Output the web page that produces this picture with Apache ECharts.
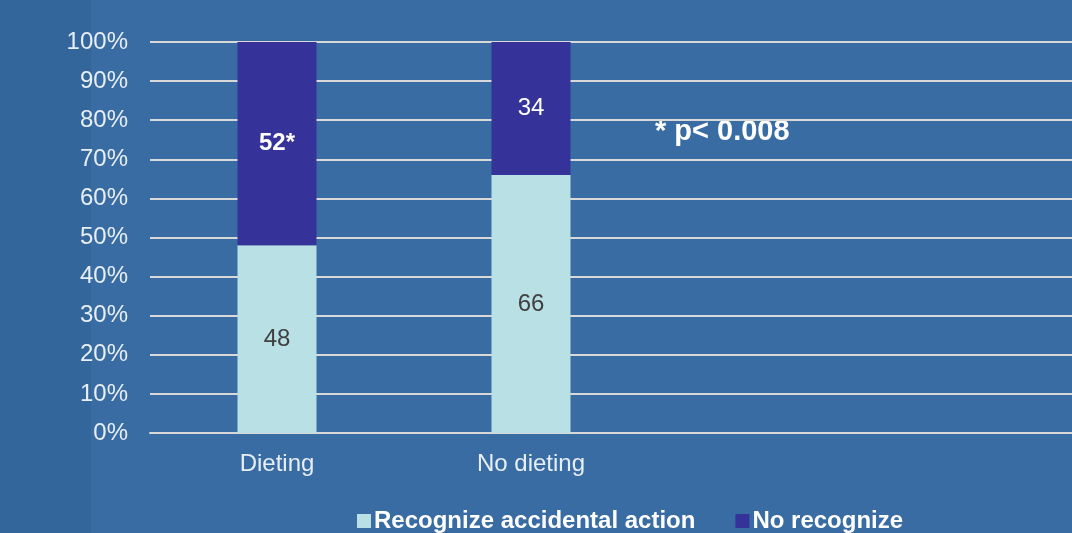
<!DOCTYPE html>
<html>
<head>
<meta charset="utf-8">
<script src="https://cdn.jsdelivr.net/npm/echarts@6/dist/echarts.min.js"></script>
<style>
html,body{margin:0;padding:0;background:#386ca2;}
#c{width:1072px;height:533px;}
</style>
</head>
<body>
<div id="c"></div>
<script>
const categories = ['Dieting', 'No dieting', '', ''];
const recognize = [48, 66, '-', '-'];
const noRecognize = [52, 34, '-', '-'];
const recognizeLabels = ['48', '66'];
const noRecognizeLabels = ['52*', '34'];
const seriesNames = ['Recognize accidental action', 'No recognize'];
const yTicks = [0, 10, 20, 30, 40, 50, 60, 70, 80, 90, 100];
const note = '* p< 0.008';

const chart = echarts.init(document.getElementById('c'), null, {renderer: 'canvas'});
const font = '"Liberation Sans", Arial, sans-serif';
chart.setOption({
  backgroundColor: '#386ca2',
  animation: false,
  graphic: [
    {type: 'rect', left: 0, top: 0, z: -10, shape: {width: 91, height: 533}, style: {fill: '#33669a'}},
    {type: 'text', left: 655, top: 117, style: {text: note, fill: '#ffffff', font: 'bold 29px ' + font}}
  ],
  grid: {left: 150, top: 42, height: 391, width: 1016, outerBoundsMode: 'none', containLabel: false},
  legend: {
    left: 352, top: 504, itemWidth: 14, itemHeight: 14, itemGap: 40,
    icon: 'rect',
    textStyle: {color: '#ffffff', fontSize: 24, fontWeight: 'bold', fontFamily: font, padding: [0, 0, 0, -2]},
    data: seriesNames
  },
  xAxis: {
    type: 'category', data: categories,
    axisLine: {show: true, lineStyle: {color: '#d9d9d9', width: 2}},
    axisTick: {show: false},
    axisLabel: {color: '#e8eef5', fontSize: 24, fontFamily: font, margin: 19}
  },
  yAxis: {
    type: 'value', min: 0, max: 100, interval: 10,
    axisLine: {show: false}, axisTick: {show: false},
    splitLine: {lineStyle: {color: '#d9d9d9', width: 2}},
    axisLabel: {color: '#e8eef5', fontSize: 24, fontFamily: font, margin: 22, padding: [6, 0, 0, 0],
      formatter: v => yTicks.includes(v) ? v + '%' : ''}
  },
  series: [
    {
      name: seriesNames[0], type: 'bar', stack: 's', barWidth: 79, data: recognize,
      itemStyle: {color: '#b9e0e4'},
      label: {show: true, position: 'inside', color: '#404040', fontSize: 24, fontFamily: font, padding: [6, 0, 0, 0],
        formatter: p => recognizeLabels[p.dataIndex]}
    },
    {
      name: seriesNames[1], type: 'bar', stack: 's', barWidth: 79,
      data: noRecognize.map((v, i) => (v === '-' ? v : {value: v, label: {fontWeight: noRecognizeLabels[i].includes('*') ? 'bold' : 'normal'}})),
      itemStyle: {color: '#353399'},
      label: {show: true, position: 'inside', color: '#ffffff', fontSize: 24, fontFamily: font, padding: [6, 0, 0, 0],
        formatter: p => noRecognizeLabels[p.dataIndex]}
    }
  ]
});
</script>
</body>
</html>
